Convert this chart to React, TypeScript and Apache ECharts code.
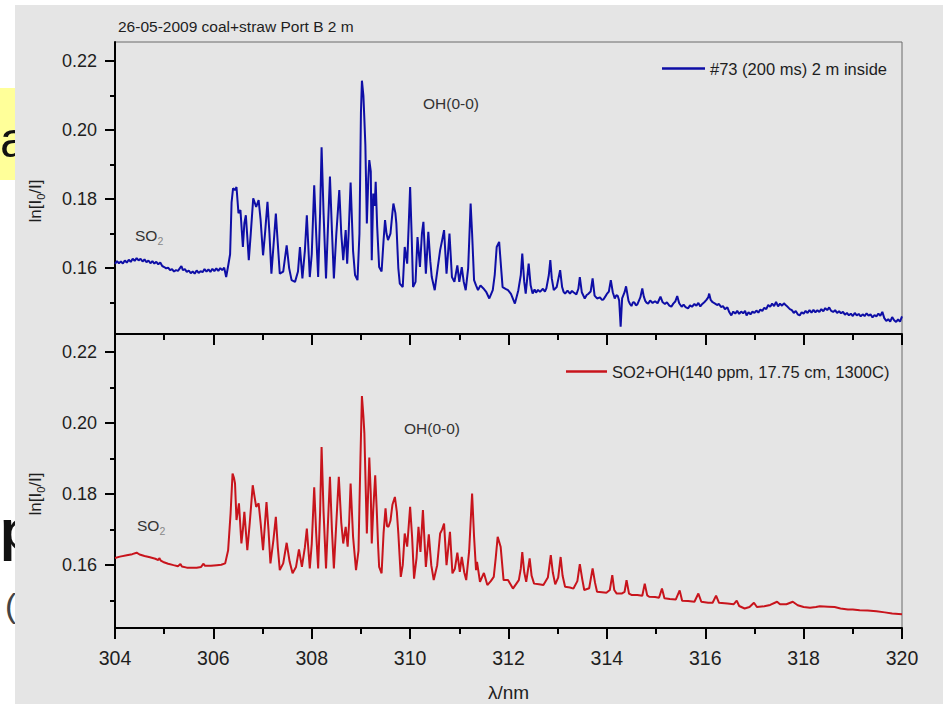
import React, { useEffect, useRef } from "react";
import * as echarts from "echarts";

const TITLE = "26-05-2009 coal+straw Port B 2 m";
const TOP_NAME = "#73 (200 ms) 2 m inside";
const BOTTOM_NAME = "SO2+OH(140 ppm, 17.75 cm, 1300C)";
const X_MIN = 304;
const X_MAX = 320;
const X_INTERVAL = 2;
const Y_TICKS = [0.16, 0.18, 0.2, 0.22];
const Y_MINOR_TICKS = [0.15, 0.17, 0.19, 0.21];

// measured spectrum #73 (wavelength nm, ln[I0/I])
const topSO2: [number, number][] = [
  [304.0, 0.1612], [304.04, 0.162], [304.08, 0.1614], [304.12, 0.1619], [304.16, 0.1613],
  [304.2, 0.1622], [304.24, 0.1616], [304.28, 0.1624], [304.32, 0.1618], [304.36, 0.1627],
  [304.4, 0.1621], [304.44, 0.1629], [304.48, 0.1622], [304.52, 0.1627], [304.56, 0.1619],
  [304.6, 0.1625], [304.64, 0.1617], [304.68, 0.1622], [304.72, 0.1614], [304.76, 0.162],
  [304.8, 0.1613], [304.84, 0.1618], [304.88, 0.1611], [304.92, 0.1616], [304.96, 0.1606],
  [305.0, 0.1603], [305.04, 0.1599], [305.08, 0.1601], [305.12, 0.1594], [305.16, 0.1597],
  [305.2, 0.159], [305.24, 0.1594], [305.28, 0.1592], [305.32, 0.16], [305.35, 0.1606],
  [305.38, 0.1594], [305.42, 0.1597], [305.46, 0.1589], [305.5, 0.1593], [305.54, 0.1585],
  [305.58, 0.159], [305.62, 0.1584], [305.66, 0.1593], [305.7, 0.1586], [305.74, 0.1591],
  [305.78, 0.1588], [305.82, 0.1597], [305.86, 0.159], [305.9, 0.1596], [305.94, 0.1589],
  [305.98, 0.1598], [306.02, 0.1591], [306.06, 0.1599], [306.1, 0.1592], [306.14, 0.16],
  [306.18, 0.1594], [306.22, 0.1601], [306.26, 0.1574], [306.3, 0.1606],
];
const topOH: [number, number][] = [
  [306.34, 0.164], [306.37, 0.179], [306.4, 0.1831], [306.44, 0.1826], [306.47, 0.1835],
  [306.51, 0.1759], [306.55, 0.1768], [306.6, 0.1661], [306.63, 0.173], [306.66, 0.1753],
  [306.69, 0.169], [306.72, 0.1623], [306.76, 0.17], [306.81, 0.1802], [306.84, 0.179],
  [306.87, 0.1777], [306.92, 0.1797], [306.96, 0.174], [307.01, 0.1637], [307.05, 0.17],
  [307.1, 0.1792], [307.14, 0.17], [307.18, 0.1584], [307.23, 0.168], [307.27, 0.1758],
  [307.31, 0.167], [307.35, 0.1584], [307.42, 0.159], [307.49, 0.1666], [307.54, 0.16],
  [307.59, 0.1565], [307.66, 0.156], [307.72, 0.159], [307.76, 0.1661], [307.81, 0.157],
  [307.86, 0.165], [307.9, 0.1753], [307.96, 0.1574], [308.0, 0.164], [308.05, 0.184],
  [308.09, 0.17], [308.13, 0.1574], [308.17, 0.176], [308.2, 0.195], [308.24, 0.176],
  [308.29, 0.157], [308.33, 0.172], [308.37, 0.1865], [308.41, 0.171], [308.45, 0.157],
  [308.5, 0.17], [308.56, 0.1826], [308.6, 0.17], [308.64, 0.1623], [308.69, 0.171],
  [308.72, 0.1613], [308.75, 0.17], [308.79, 0.1848], [308.84, 0.165], [308.88, 0.158],
  [308.93, 0.1565], [308.97, 0.17], [309.0, 0.205], [309.02, 0.2143], [309.05, 0.21],
  [309.07, 0.203], [309.09, 0.1956], [309.12, 0.1729], [309.15, 0.186], [309.17, 0.1913],
  [309.2, 0.188], [309.22, 0.1623], [309.25, 0.1816], [309.28, 0.178], [309.3, 0.185],
  [309.33, 0.172], [309.37, 0.1603], [309.42, 0.159], [309.46, 0.168], [309.49, 0.1739],
  [309.52, 0.17], [309.55, 0.1681], [309.6, 0.17], [309.64, 0.176], [309.66, 0.1787],
  [309.7, 0.176], [309.72, 0.1729], [309.76, 0.16], [309.79, 0.1555], [309.85, 0.1545],
  [309.89, 0.1661], [309.94, 0.1613], [309.97, 0.172], [310.0, 0.1835], [310.03, 0.17],
  [310.06, 0.1545], [310.11, 0.156], [310.15, 0.169], [310.2, 0.1603], [310.24, 0.17],
  [310.27, 0.1734], [310.32, 0.1584], [310.37, 0.1705], [310.41, 0.162], [310.44, 0.1574],
  [310.5, 0.1536], [310.56, 0.16], [310.61, 0.1652], [310.65, 0.168], [310.69, 0.171],
  [310.74, 0.1584], [310.8, 0.17], [310.85, 0.1574], [310.9, 0.156], [310.96, 0.1608],
  [311.0, 0.156], [311.05, 0.1603], [311.09, 0.156], [311.13, 0.1536], [311.18, 0.16],
  [311.23, 0.1787], [311.26, 0.17], [311.3, 0.1565], [311.34, 0.155], [311.38, 0.1536],
  [311.43, 0.155], [311.49, 0.1541], [311.55, 0.153], [311.61, 0.1512], [311.68, 0.1536],
  [311.72, 0.158], [311.76, 0.1661], [311.81, 0.1676], [311.85, 0.16], [311.88, 0.1545],
  [311.94, 0.154], [311.99, 0.1536], [312.05, 0.1525], [312.13, 0.1497], [312.2, 0.1536],
  [312.25, 0.158], [312.28, 0.1642], [312.32, 0.156], [312.35, 0.1526], [312.41, 0.1613],
  [312.45, 0.155], [312.49, 0.1526], [312.53, 0.1538], [312.56, 0.1529], [312.6, 0.1537],
  [312.64, 0.1531], [312.7, 0.154], [312.74, 0.1532], [312.77, 0.1541], [312.82, 0.158],
  [312.85, 0.1623], [312.88, 0.157], [312.92, 0.1536], [312.98, 0.1545], [313.05, 0.1594],
  [313.09, 0.1545], [313.12, 0.1531], [313.15, 0.1526], [313.2, 0.1535], [313.25, 0.1526],
  [313.29, 0.1534], [313.32, 0.153], [313.38, 0.1524], [313.42, 0.154], [313.45, 0.1574],
  [313.49, 0.153], [313.55, 0.1512], [313.59, 0.1522], [313.62, 0.1525], [313.67, 0.1532],
  [313.71, 0.157], [313.75, 0.152], [313.8, 0.1512],
];
const topTail: [number, number][] = [
  [313.86, 0.1515], [313.9, 0.1508], [313.93, 0.1509], [313.97, 0.1518], [314.0, 0.1525],
  [314.04, 0.1532], [314.08, 0.1565], [314.12, 0.153], [314.16, 0.1512], [314.19, 0.1521],
  [314.22, 0.152], [314.25, 0.1506], [314.28, 0.143], [314.31, 0.1512], [314.36, 0.153],
  [314.39, 0.1547], [314.44, 0.1505], [314.47, 0.1496], [314.5, 0.149], [314.53, 0.1501],
  [314.56, 0.15], [314.59, 0.1492], [314.62, 0.1495], [314.65, 0.1505], [314.68, 0.1515],
  [314.72, 0.1541], [314.75, 0.1518], [314.78, 0.1505], [314.81, 0.1499], [314.84, 0.1497],
  [314.88, 0.1506], [314.93, 0.1499], [314.98, 0.1504], [315.03, 0.1498], [315.09, 0.1517],
  [315.13, 0.1502], [315.18, 0.1496], [315.22, 0.1501], [315.27, 0.1491], [315.31, 0.1488],
  [315.35, 0.1497], [315.39, 0.1503], [315.43, 0.1519], [315.47, 0.1498], [315.52, 0.1488],
  [315.56, 0.1494], [315.6, 0.1487], [315.65, 0.1483], [315.69, 0.1492], [315.73, 0.1488],
  [315.78, 0.1496], [315.82, 0.1491], [315.86, 0.1499], [315.9, 0.1489], [315.94, 0.1496],
  [315.98, 0.1501], [316.02, 0.1507], [316.06, 0.1515], [316.08, 0.1526], [316.11, 0.1508],
  [316.15, 0.1501], [316.2, 0.1497], [316.24, 0.1493], [316.28, 0.1496], [316.32, 0.1487],
  [316.36, 0.149], [316.4, 0.1481], [316.45, 0.1486], [316.49, 0.1472], [316.53, 0.1463],
  [316.57, 0.1474], [316.61, 0.1468], [316.65, 0.1476], [316.69, 0.1467], [316.73, 0.1474],
  [316.77, 0.1469], [316.81, 0.1476], [316.84, 0.1463], [316.88, 0.1472], [316.92, 0.1466],
  [316.96, 0.1474], [317.0, 0.147], [317.04, 0.1477], [317.08, 0.1471], [317.12, 0.148],
  [317.16, 0.1476], [317.2, 0.1485], [317.24, 0.1481], [317.28, 0.1493], [317.32, 0.1488],
  [317.36, 0.1497], [317.4, 0.149], [317.44, 0.1502], [317.48, 0.1489], [317.52, 0.1497],
  [317.56, 0.1491], [317.6, 0.1498], [317.64, 0.1492], [317.68, 0.1487], [317.72, 0.1481],
  [317.76, 0.1478], [317.8, 0.147], [317.84, 0.1476], [317.88, 0.1466], [317.92, 0.1463],
  [317.96, 0.1472], [318.0, 0.1468], [318.04, 0.1476], [318.08, 0.147], [318.12, 0.1478],
  [318.16, 0.1471], [318.2, 0.1479], [318.24, 0.1472], [318.28, 0.1478], [318.32, 0.1473],
  [318.36, 0.1481], [318.4, 0.1475], [318.44, 0.1484], [318.48, 0.1478], [318.52, 0.1486],
  [318.56, 0.1476], [318.6, 0.1473], [318.64, 0.1478], [318.68, 0.147], [318.72, 0.1475],
  [318.76, 0.1469], [318.8, 0.1473], [318.84, 0.1465], [318.88, 0.147], [318.92, 0.1463],
  [318.96, 0.1468], [319.0, 0.1461], [319.04, 0.147], [319.08, 0.1463], [319.12, 0.1467],
  [319.16, 0.146], [319.2, 0.1466], [319.24, 0.1461], [319.28, 0.1469], [319.32, 0.1462],
  [319.36, 0.1466], [319.4, 0.1457], [319.44, 0.1464], [319.48, 0.146], [319.52, 0.1468],
  [319.56, 0.1462], [319.6, 0.1473], [319.64, 0.1455], [319.68, 0.1447], [319.72, 0.1452],
  [319.76, 0.1445], [319.8, 0.1458], [319.84, 0.1449], [319.88, 0.1444], [319.92, 0.1451],
  [319.96, 0.1445], [320.0, 0.146],
];

// simulated SO2+OH spectrum
const bottomSO2: [number, number][] = [
  [304.0, 0.162], [304.1, 0.1624], [304.24, 0.1628], [304.35, 0.1631], [304.44, 0.1635],
  [304.5, 0.163], [304.6, 0.1626], [304.71, 0.1622], [304.82, 0.1618], [304.88, 0.1614],
  [304.9, 0.162], [304.93, 0.1613], [304.98, 0.1609], [305.08, 0.1604], [305.19, 0.16],
  [305.28, 0.1597], [305.33, 0.1603], [305.36, 0.1596], [305.46, 0.1593], [305.56, 0.1593],
  [305.66, 0.1593], [305.75, 0.1595], [305.8, 0.1604], [305.83, 0.1598], [305.95, 0.1598],
  [306.07, 0.16], [306.16, 0.1601], [306.24, 0.1605],
];
const bottomOH: [number, number][] = [
  [306.3, 0.1642], [306.35, 0.1746], [306.39, 0.1858], [306.42, 0.1845], [306.44, 0.183],
  [306.47, 0.1727], [306.52, 0.1774], [306.57, 0.1661], [306.6, 0.17], [306.63, 0.175],
  [306.69, 0.1642], [306.74, 0.172], [306.8, 0.1825], [306.84, 0.179], [306.87, 0.1764],
  [306.92, 0.1774], [306.96, 0.172], [307.01, 0.1642], [307.04, 0.17], [307.08, 0.1778],
  [307.12, 0.17], [307.16, 0.1605], [307.22, 0.167], [307.27, 0.1736], [307.31, 0.165],
  [307.35, 0.1586], [307.42, 0.1605], [307.49, 0.1663], [307.55, 0.161], [307.61, 0.1577],
  [307.68, 0.1595], [307.74, 0.1644], [307.8, 0.1595], [307.86, 0.165], [307.9, 0.1703],
  [307.96, 0.1591], [308.0, 0.166], [308.05, 0.1819], [308.09, 0.169], [308.13, 0.1591],
  [308.17, 0.175], [308.2, 0.1933], [308.24, 0.175], [308.29, 0.1591], [308.33, 0.172],
  [308.37, 0.1849], [308.41, 0.17], [308.45, 0.1591], [308.5, 0.172], [308.55, 0.1849],
  [308.6, 0.172], [308.64, 0.1661], [308.69, 0.1708], [308.73, 0.1652], [308.76, 0.172],
  [308.79, 0.183], [308.84, 0.168], [308.9, 0.1586], [308.95, 0.164], [308.99, 0.19],
  [309.02, 0.2076], [309.05, 0.202], [309.07, 0.1971], [309.1, 0.18], [309.12, 0.1689],
  [309.15, 0.182], [309.17, 0.1903], [309.2, 0.18], [309.22, 0.1661], [309.25, 0.1755],
  [309.29, 0.1853], [309.32, 0.176], [309.35, 0.1652], [309.37, 0.1595], [309.42, 0.1577],
  [309.46, 0.169], [309.5, 0.176], [309.53, 0.171], [309.56, 0.1708], [309.6, 0.1725],
  [309.64, 0.177], [309.69, 0.1792], [309.73, 0.175], [309.76, 0.169], [309.81, 0.1567],
  [309.85, 0.16], [309.89, 0.1689], [309.94, 0.1652], [310.0, 0.1764], [310.04, 0.168],
  [310.08, 0.1562], [310.13, 0.162], [310.17, 0.1708], [310.21, 0.1637], [310.26, 0.1755],
  [310.32, 0.1595], [310.38, 0.1687], [310.43, 0.16], [310.48, 0.1558], [310.55, 0.16],
  [310.61, 0.1689], [310.65, 0.17], [310.69, 0.1717], [310.74, 0.16], [310.81, 0.1694],
  [310.86, 0.1577], [310.91, 0.159], [310.96, 0.1635], [311.01, 0.1581], [311.05, 0.1623],
  [311.1, 0.158], [311.14, 0.1558], [311.2, 0.164], [311.26, 0.1802], [311.3, 0.168],
  [311.34, 0.1586], [311.36, 0.1609], [311.42, 0.1553], [311.5, 0.1578], [311.57, 0.1544],
  [311.64, 0.1555], [311.7, 0.1567], [311.74, 0.162], [311.78, 0.168], [311.84, 0.1652],
  [311.9, 0.1558], [311.99, 0.1558], [312.09, 0.1534], [312.21, 0.1558], [312.25, 0.159],
  [312.28, 0.1637], [312.32, 0.158], [312.36, 0.1553], [312.43, 0.1619], [312.47, 0.157],
  [312.52, 0.1548], [312.62, 0.1546], [312.71, 0.1544], [312.8, 0.1565], [312.86, 0.1628],
  [312.9, 0.158], [312.95, 0.1546], [313.01, 0.1565], [313.06, 0.1623], [313.1, 0.157],
  [313.15, 0.1539], [313.25, 0.1537], [313.32, 0.1534], [313.4, 0.1555], [313.45, 0.1603],
  [313.5, 0.156], [313.54, 0.153], [313.64, 0.1535], [313.71, 0.1591], [313.76, 0.155],
  [313.8, 0.1525],
];
const bottomTail: [number, number][] = [
  [313.9, 0.1524], [313.99, 0.1522], [314.06, 0.153], [314.11, 0.1572], [314.15, 0.153],
  [314.2, 0.152], [314.3, 0.152], [314.36, 0.1525], [314.4, 0.1558], [314.45, 0.152],
  [314.5, 0.1516], [314.62, 0.1516], [314.72, 0.1514], [314.77, 0.1548], [314.82, 0.1515],
  [314.86, 0.1511], [314.98, 0.151], [315.06, 0.1508], [315.12, 0.1534], [315.17, 0.1507],
  [315.28, 0.1505], [315.4, 0.1503], [315.48, 0.1529], [315.53, 0.15], [315.65, 0.1499],
  [315.78, 0.1497], [315.86, 0.152], [315.92, 0.1497], [316.06, 0.1494], [316.15, 0.1494],
  [316.22, 0.1514], [316.28, 0.1494], [316.45, 0.1492], [316.58, 0.149], [316.64, 0.15],
  [316.69, 0.1485], [316.8, 0.1478], [316.9, 0.1482], [316.99, 0.1494], [317.05, 0.1482],
  [317.2, 0.1484], [317.32, 0.1488], [317.46, 0.1497], [317.52, 0.149], [317.65, 0.149],
  [317.78, 0.1497], [317.88, 0.1487], [318.0, 0.1482], [318.13, 0.148], [318.25, 0.1482],
  [318.33, 0.1484], [318.5, 0.1483], [318.63, 0.1482], [318.75, 0.1478], [318.9, 0.1475],
  [319.0, 0.1475], [319.14, 0.1473], [319.3, 0.1472], [319.48, 0.147], [319.65, 0.1467],
  [319.8, 0.1464], [320.0, 0.1462],
];

const FONT = "'Liberation Sans', Arial, Helvetica, sans-serif";
const BLUE = "#0e0ea6";
const RED = "#c8141c";
const INK = "#1e1e1e";

function yAxes(gridIndex: number, min: number, max: number) {
  return [
    {
      type: "value",
      gridIndex,
      position: "left",
      min,
      max,
      axisLine: { show: true, onZero: false, lineStyle: { color: "#000", width: 2 } },
      axisTick: {
        show: true,
        inside: false,
        length: 10,
        customValues: Y_TICKS,
        lineStyle: { color: "#000", width: 2 },
      },
      axisLabel: {
        show: true,
        customValues: Y_TICKS,
        margin: 18,
        fontSize: 18,
        color: INK,
        fontFamily: FONT,
        formatter: (v: number) => v.toFixed(2),
      },
      splitLine: { show: false },
    },
    {
      type: "value",
      gridIndex,
      position: "left",
      offset: 0,
      min,
      max,
      axisLine: { show: false },
      axisTick: {
        show: true,
        inside: false,
        length: 5,
        customValues: Y_MINOR_TICKS,
        lineStyle: { color: "#000", width: 2 },
      },
      axisLabel: { show: false },
      splitLine: { show: false },
    },
  ];
}

function xAxis(gridIndex: number, showLabels: boolean) {
  return {
    type: "value",
    gridIndex,
    min: X_MIN,
    max: X_MAX,
    interval: X_INTERVAL,
    axisLine: { show: true, onZero: false, lineStyle: { color: "#000", width: 2 } },
    axisTick: { show: true, inside: false, length: 11, lineStyle: { color: "#000", width: 2 } },
    minorTick: { show: true, splitNumber: 2, length: 6, lineStyle: { color: "#000", width: 2 } },
    axisLabel: {
      show: showLabels,
      margin: 20,
      fontSize: 19.5,
      color: INK,
      fontFamily: FONT,
    },
    splitLine: { show: false },
    minorSplitLine: { show: false },
    ...(showLabels
      ? {
          name: "λ/nm",
          nameLocation: "middle",
          nameGap: 55,
          nameTextStyle: { fontSize: 19, color: INK, fontFamily: FONT },
        }
      : {}),
  };
}

function yName(y: number) {
  return {
    type: "text",
    x: 35,
    y,
    rotation: Math.PI / 2,
    z: 10,
    style: {
      text: "ln[I{s|0}/I]",
      fontSize: 17,
      lineHeight: 22,
      fontFamily: FONT,
      fill: INK,
      align: "center",
      verticalAlign: "middle",
      rich: { s: { fontSize: 11, lineHeight: 11, verticalAlign: "bottom", fontFamily: FONT, fill: INK } },
    },
  };
}

function so2Label(x: number, y: number) {
  return {
    type: "text",
    x,
    y,
    z: 10,
    style: {
      text: "SO{s|2}",
      fontSize: 15.5,
      lineHeight: 22,
      fontFamily: FONT,
      fill: "#333",
      align: "left",
      verticalAlign: "middle",
      rich: { s: { fontSize: 10.5, lineHeight: 11, verticalAlign: "bottom", fontFamily: FONT, fill: "#888" } },
    },
  };
}

function plainText(text: string, x: number, y: number, fontSize: number, fill = "#333") {
  return {
    type: "text",
    x,
    y,
    z: 10,
    style: { text, fontSize, fontFamily: FONT, fill, align: "left", verticalAlign: "middle" },
  };
}

export default function App() {
  const ref = useRef<HTMLDivElement>(null);
  useEffect(() => {
    if (!ref.current) return;
    const chart = echarts.init(ref.current, undefined, { renderer: "svg" });
    const topData = [...topSO2, ...topOH, ...topTail];
    const bottomData = [...bottomSO2, ...bottomOH, ...bottomTail];
    chart.setOption({
      animation: false,
      backgroundColor: "#ffffff",
      textStyle: { fontFamily: FONT },
      grid: [
        { left: 115, top: 42, width: 787, height: 292, show: true, borderColor: "#6a6a6a", borderWidth: 1, backgroundColor: "transparent" },
        { left: 115, top: 334, width: 787, height: 294, show: true, borderColor: "#6a6a6a", borderWidth: 1, backgroundColor: "transparent" },
      ],
      xAxis: [xAxis(0, false), xAxis(1, true)],
      yAxis: [...yAxes(0, 0.1409, 0.2255), ...yAxes(1, 0.1423, 0.2251)],
      legend: [
        {
          data: [TOP_NAME],
          left: 662,
          top: 60,
          padding: 0,
          icon: "rect",
          itemWidth: 43,
          itemHeight: 2.5,
          selectedMode: false,
          textStyle: { fontSize: 16.5, color: INK, fontFamily: FONT },
        },
        {
          data: [BOTTOM_NAME],
          left: 566,
          top: 363,
          padding: 0,
          icon: "rect",
          itemWidth: 41,
          itemHeight: 2.5,
          selectedMode: false,
          textStyle: { fontSize: 16.5, color: INK, fontFamily: FONT },
        },
      ],
      series: [
        {
          name: TOP_NAME,
          type: "line",
          xAxisIndex: 0,
          yAxisIndex: 0,
          data: topData,
          showSymbol: false,
          symbol: "none",
          lineStyle: { color: BLUE, width: 2 },
          itemStyle: { color: BLUE },
        },
        {
          name: BOTTOM_NAME,
          type: "line",
          xAxisIndex: 1,
          yAxisIndex: 2,
          data: bottomData,
          showSymbol: false,
          symbol: "none",
          lineStyle: { color: RED, width: 2 },
          itemStyle: { color: RED },
        },
      ],
      graphic: [
        { type: "rect", z: -6, shape: { x: 0, y: 88, width: 15, height: 92 }, style: { fill: "#ffff99" } },
        { type: "text", z: -5, x: 0, y: 140, style: { text: "a", fontSize: 50, fontFamily: FONT, fill: "#111", verticalAlign: "middle" } },
        { type: "text", z: -5, x: 0, y: 530, style: { text: "p", fontSize: 55, fontWeight: "bold", fontFamily: FONT, fill: "#111", verticalAlign: "middle" } },
        { type: "text", z: -5, x: 5, y: 605, style: { text: "(", fontSize: 34, fontFamily: FONT, fill: "#444", verticalAlign: "middle" } },
        { type: "rect", z: -1, shape: { x: 15, y: 5, width: 928, height: 699 }, style: { fill: "#e5e5e5" } },
        plainText(TITLE, 118, 26, 15.5, INK),
        plainText("OH(0-0)", 423, 103, 15.5),
        plainText("OH(0-0)", 404, 428, 15.5),
        so2Label(135, 235),
        so2Label(137, 525),
        yName(201),
        yName(494),
      ],
    });
    return () => chart.dispose();
  }, []);
  return (
    <div
      ref={ref}
      style={{ position: "absolute", left: 0, top: 0, width: 943, height: 704, background: "#fff" }}
    />
  );
}
